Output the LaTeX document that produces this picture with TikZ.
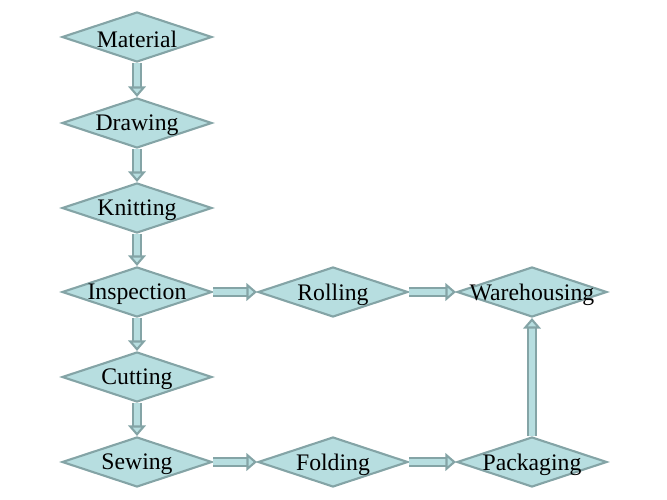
\documentclass[tikz,border=0pt]{standalone}
\usepackage{fontspec}
\setmainfont{Liberation Serif}
\usetikzlibrary{shapes.geometric,arrows.meta}
\definecolor{stagefill}{RGB}{183,222,224}
\definecolor{stageedge}{RGB}{132,164,166}
\tikzset{
  stage/.style={diamond, draw=stageedge, fill=stagefill, line width=1.2pt,
    minimum width=3cm, minimum height=1cm, inner sep=0pt},
  every label/.style={yshift=-1.5pt},
  flow/.style={draw=stageedge, line width=1.2pt, double=stagefill, double distance=3pt,
    -{Triangle[length=6pt,width=10pt,fill=stagefill,line width=1.2pt]}}
}
\begin{document}
\begin{tikzpicture}[x=0.02cm, y=-0.02cm, font=\fontsize{13.5}{16}\selectfont]
  \useasboundingbox (0,0) rectangle (667,500);
  % first column
  \node[stage, label=center:Material] (material) at (137,37) {};
  \node[stage, label=center:Drawing] (drawing) at (137,123) {};
  \node[stage, label=center:Knitting] (knitting) at (137,208) {};
  \node[stage, label=center:Inspection] (inspection) at (137,292) {};
  \node[stage, label=center:Cutting] (cutting) at (137,377) {};
  \node[stage, label=center:Sewing] (sewing) at (137,462) {};
  % other columns
  \node[stage, label=center:Rolling] (rolling) at (333,292) {};
  \node[stage, label=center:Warehousing] (warehousing) at (532,292) {};
  \node[stage, label=center:Folding] (folding) at (333,462) {};
  \node[stage, label=center:Packaging] (packaging) at (532,462) {};
  % connectors
  \draw[flow] (material.south) -- (drawing.north);
  \draw[flow] (drawing.south) -- (knitting.north);
  \draw[flow] (knitting.south) -- (inspection.north);
  \draw[flow] (inspection.south) -- (cutting.north);
  \draw[flow] (cutting.south) -- (sewing.north);
  \draw[flow] (inspection.east) -- (rolling.west);
  \draw[flow] (rolling.east) -- (warehousing.west);
  \draw[flow] (sewing.east) -- (folding.west);
  \draw[flow] (folding.east) -- (packaging.west);
  \draw[flow] (packaging.north) -- (warehousing.south);
\end{tikzpicture}
\end{document}
